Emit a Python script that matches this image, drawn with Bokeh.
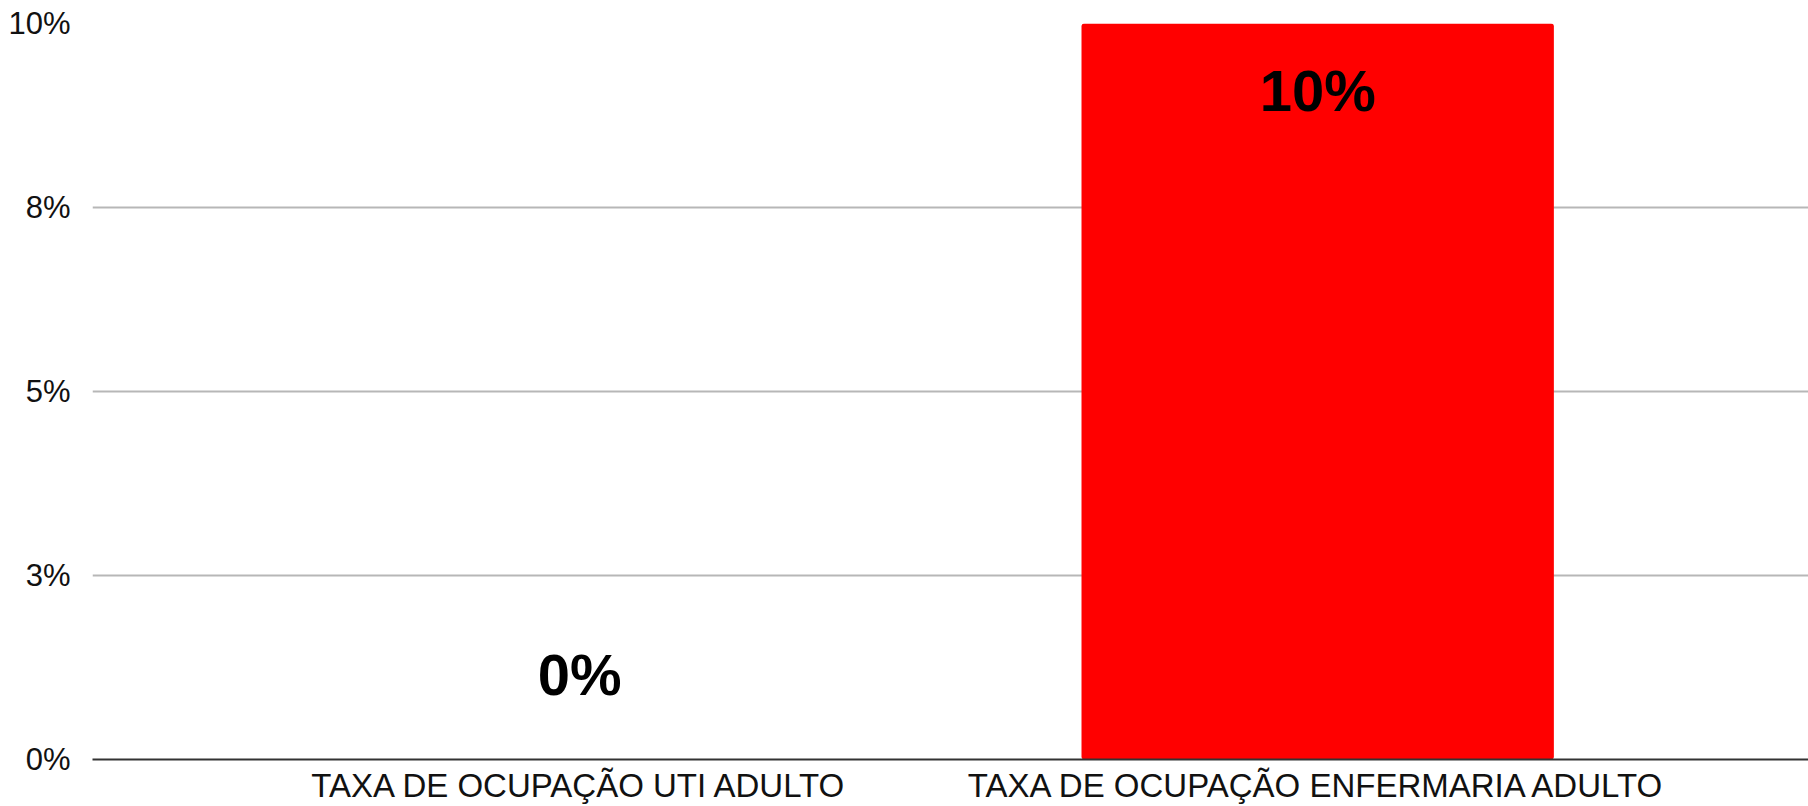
from bokeh.plotting import figure
from bokeh.models import ColumnDataSource, Range1d, FixedTicker
from bokeh.core.properties import value
from bokeh.embed import file_html
from bokeh.resources import INLINE

categories = ["TAXA DE OCUPAÇÃO UTI ADULTO", "TAXA DE OCUPAÇÃO ENFERMARIA ADULTO"]
values = [0, 10]
value_labels = ["0%", "10%"]
y_ticks = [0, 2.5, 5, 7.5, 10]
y_tick_labels = ["0%", "3%", "5%", "8%", "10%"]

xs = list(range(len(categories)))
src = ColumnDataSource(dict(x=xs, top=values, label=value_labels))

p = figure(width=1808, height=806, output_backend="svg", toolbar_location=None,
           x_range=Range1d(-0.660, 1.665), y_range=Range1d(0, 10),
           min_border_left=92, min_border_right=0, min_border_top=23, min_border_bottom=46)
p.outline_line_color = None
p.background_fill_color = "white"
p.border_fill_color = "white"

p.vbar(x="x", top="top", bottom=0, width=0.64, source=src, fill_color="#ff0000",
       line_color=None, border_radius=3)

# labels: inside top of bar for the max, above the baseline otherwise
vmax = max(values)
for xi, v, lab in zip(xs, values, value_labels):
    if v >= vmax and v > 0:
        p.text(x=[xi], y=[v], text=[lab], text_align="center", text_baseline="top",
               y_offset=34, text_font=value("Liberation Sans"), text_font_style="bold",
               text_font_size="58px", text_color="#000000")
    else:
        p.text(x=[xi], y=[v], text=[lab], text_align="center", text_baseline="bottom",
               y_offset=-53, text_font=value("Liberation Sans"), text_font_style="bold",
               text_font_size="58px", text_color="#000000")

p.xaxis.ticker = FixedTicker(ticks=xs)
p.xaxis.major_label_overrides = {i: c for i, c in zip(xs, categories)}
p.xaxis.major_tick_line_color = None
p.xaxis.minor_tick_line_color = None
p.xaxis.major_tick_out = 0
p.xaxis.major_label_standoff = 7
p.xaxis.axis_line_color = "#333333"
p.xaxis.axis_line_width = 2
p.xaxis.major_label_text_font = "Liberation Sans"
p.xaxis.major_label_text_font_size = "33px"
p.xaxis.major_label_text_color = "#111111"

p.yaxis.ticker = FixedTicker(ticks=y_ticks)
p.yaxis.major_label_overrides = {t: l for t, l in zip(y_ticks, y_tick_labels)}
p.yaxis.axis_line_color = None
p.yaxis.major_tick_line_color = None
p.yaxis.minor_tick_line_color = None
p.yaxis.major_tick_out = 0
p.yaxis.major_label_standoff = 22
p.yaxis.major_label_text_font = "Liberation Sans"
p.yaxis.major_label_text_font_size = "31px"
p.yaxis.major_label_text_color = "#111111"

p.xgrid.grid_line_color = None
p.ygrid.grid_line_color = "#b7b7b7"
p.ygrid.grid_line_width = 2

open("out.html", "w").write(file_html(p, INLINE))
